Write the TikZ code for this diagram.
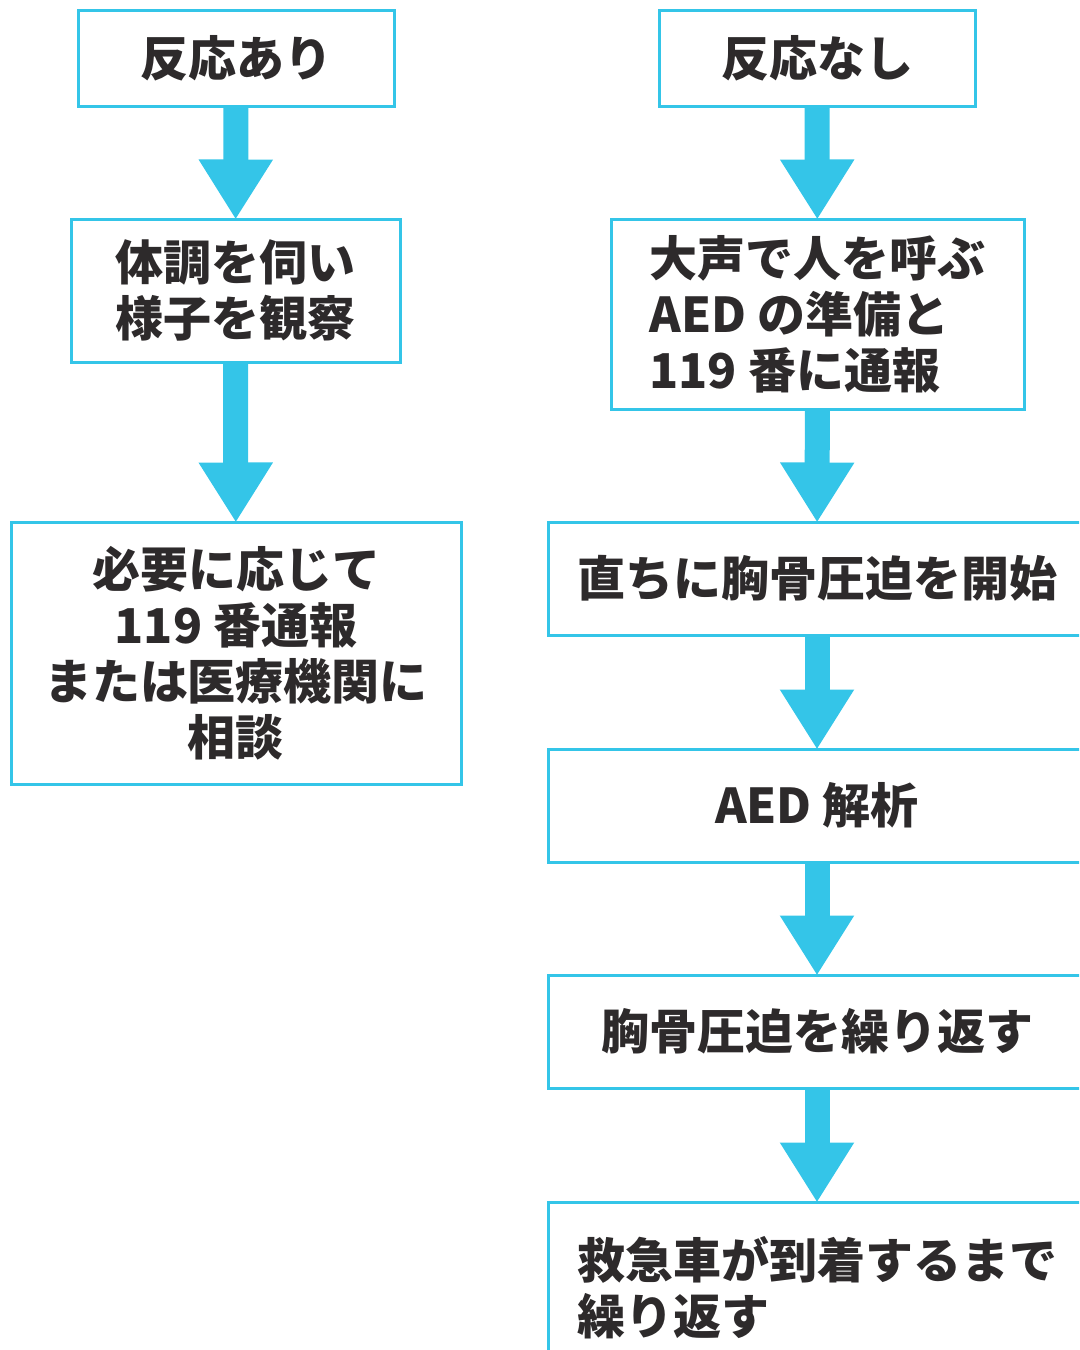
\documentclass[tikz,border=0pt]{standalone}
\usepackage{fontspec}
\newfontfamily\jpfont{Noto Sans CJK JP}
\usetikzlibrary{arrows.meta}
\definecolor{boxcyan}{RGB}{52,197,232}
\definecolor{inkgray}{RGB}{45,42,43}
\tikzset{every picture/.style={line width=0.75pt}}
\tikzset{
  flowbox/.style={draw=boxcyan, line width=2.25pt, inner sep=0pt, align=center, text=inkgray,
    font=\jpfont\bfseries\fontsize{36pt}{42pt}\selectfont},
  flowarrow/.style={draw=boxcyan, line width=18.75pt, shorten >=-1.5pt, -{Triangle[width=52.5pt,length=45pt]}}
}

\begin{document}
\begin{tikzpicture}[x=0.75pt,y=0.75pt,yscale=-1,xscale=1]
\path[use as bounding box, clip] (0,0) rectangle (1079,1350);

% Left column
\node [flowbox, minimum width=237pt, minimum height=72pt] (resp) at (236,58) {反応あり};
\node [flowbox, minimum width=246.75pt, minimum height=107.25pt] (watch) at (235.5,290.5) {体調を伺い\\様子を観察};
\node [flowbox, minimum width=337.5pt, minimum height=196.5pt] (consult) at (236,653) {必要に応じて\\119 番通報\\または医療機関に\\相談};

% Right column
\node [flowbox, minimum width=237pt, minimum height=72pt] (noresp) at (817,58) {反応なし};
\node [flowbox, minimum width=309.75pt, minimum height=142.5pt, align=left] (call) at (817.5,314) {大声で人を呼ぶ\\AED の準備と\\119 番に通報};
\node [flowbox, minimum width=403.5pt, minimum height=84.75pt] (cpr) at (817,578.5) {直ちに胸骨圧迫を開始};
\node [flowbox, minimum width=403.5pt, minimum height=84.75pt] (aed) at (817,805.5) {AED 解析};
\node [flowbox, minimum width=403.5pt, minimum height=84.75pt] (repeat) at (817,1031.5) {胸骨圧迫を繰り返す};
\node [flowbox, minimum width=403.5pt, minimum height=129pt, align=left] (wait) at (817,1288) {救急車が到着するまで\\繰り返す};

% Arrows
\draw [flowarrow] (resp) -- (watch);
\draw [flowarrow] (watch) -- (consult);
\draw [flowarrow] (noresp) -- (call);
\draw [flowarrow] (call) -- (cpr);
\draw [flowarrow] (cpr) -- (aed);
\draw [flowarrow] (aed) -- (repeat);
\draw [flowarrow] (repeat) -- (wait);

\end{tikzpicture}
\end{document}
